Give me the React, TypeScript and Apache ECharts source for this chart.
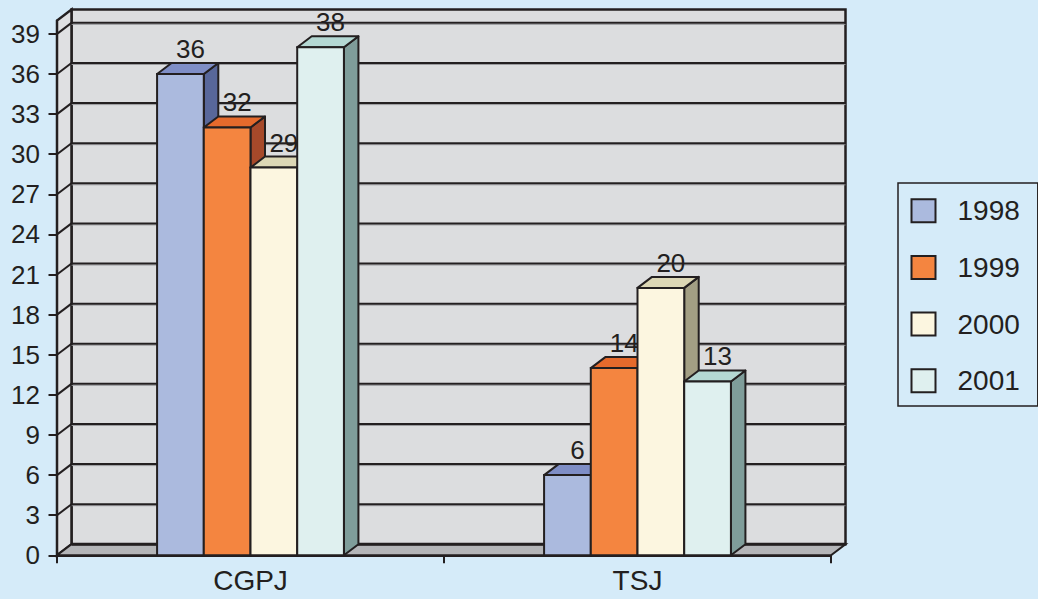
import React, { useEffect, useRef } from 'react';
import * as echarts from 'echarts';

const categories = ['CGPJ', 'TSJ'];
const years = ['1998', '1999', '2000', '2001'];
const values1998 = [36, 6];
const values1999 = [32, 14];
const values2000 = [29, 20];
const values2001 = [38, 13];
const yTicks = [0, 3, 6, 9, 12, 15, 18, 21, 24, 27, 30, 33, 36, 39];
const yMax = 40;

const seriesValues = [values1998, values1999, values2000, values2001];
const faceColors = ['#abbade', '#f48540', '#fcf6e0', '#dff0ef'];
const topColors = ['#7f8ec6', '#e56a2c', '#dcd7b5', '#b4d8d3'];
const sideColors = ['#58679a', '#a6492a', '#a39f84', '#7f9d9a'];

const DX = 14.5;
const DY = 11;
const BAR_RATIO = 0.1207;
const INK = '#231f20';
const FONT = '"Liberation Sans", Arial, Helvetica, sans-serif';

export default function App() {
  const ref = useRef<HTMLDivElement>(null);
  useEffect(() => {
    if (!ref.current) return;
    const chart = echarts.init(ref.current, undefined, { renderer: 'svg' });

    const wallSeries: any = {
      type: 'custom',
      name: 'walls',
      z: 1,
      clip: false,
      silent: true,
      data: [[0, 0]],
      renderItem: (params: any, api: any) => {
        const o = api.coord([0, 0]);
        const bw = api.size([1, 0])[0];
        const L = o[0] - bw / 2;
        const R = L + bw * categories.length;
        const y0 = o[1];
        const yT = api.coord([0, yMax])[1];
        const children: any[] = [];
        children.push({
          type: 'rect',
          shape: { x: L + DX, y: yT - DY, width: R - L, height: y0 - yT },
          style: { fill: '#dcdddf', stroke: INK, lineWidth: 2.5 },
        });
        children.push({
          type: 'polygon',
          shape: { points: [[L, y0], [L, yT], [L + DX, yT - DY], [L + DX, y0 - DY]] },
          style: { fill: '#dfe0e2', stroke: INK, lineWidth: 2.5 },
        });
        yTicks.forEach((t) => {
          if (t === 0) return;
          const y = api.coord([0, t])[1];
          children.push({
            type: 'line',
            shape: { x1: L + DX, y1: y - DY + 1.5, x2: R + DX, y2: y - DY + 1.5 },
            style: { stroke: '#9a9b9e', lineWidth: 1 },
          });
          children.push({
            type: 'line',
            shape: { x1: L + DX, y1: y - DY, x2: R + DX, y2: y - DY },
            style: { stroke: INK, lineWidth: 2 },
          });
          children.push({
            type: 'line',
            shape: { x1: L, y1: y, x2: L + DX, y2: y - DY },
            style: { stroke: INK, lineWidth: 2 },
          });
        });
        children.push({
          type: 'polygon',
          shape: { points: [[L, y0], [L + DX, y0 - DY], [R + DX, y0 - DY], [R, y0]] },
          style: { fill: '#b4b5b8', stroke: INK, lineWidth: 2 },
        });
        children.push({
          type: 'line',
          shape: { x1: L + DX, y1: y0 - DY, x2: R + DX, y2: y0 - DY },
          style: { stroke: INK, lineWidth: 3 },
        });
        return { type: 'group', children };
      },
    };

    const barSeries: any[] = years.map((yr, s) => ({
      type: 'custom',
      name: yr,
      z: 2 + s,
      clip: false,
      itemStyle: { color: faceColors[s], borderColor: INK, borderWidth: 2 },
      data: seriesValues[s].map((v, ci) => [ci, v]),
      encode: { x: 0, y: 1 },
      renderItem: (params: any, api: any) => {
        const ci = api.value(0);
        const v = api.value(1);
        const base = api.coord([ci, 0]);
        const tp = api.coord([ci, v]);
        const bw = api.size([1, 0])[0];
        const w = bw * BAR_RATIO;
        const x0 = base[0] + (s - 2) * w;
        const x1 = x0 + w;
        const yb = base[1];
        const yt = tp[1];
        return {
          type: 'group',
          children: [
            {
              type: 'polygon',
              shape: { points: [[x1, yt], [x1 + DX, yt - DY], [x1 + DX, yb - DY], [x1, yb]] },
              style: { fill: sideColors[s], stroke: INK, lineWidth: 2, lineJoin: 'round' },
            },
            {
              type: 'polygon',
              shape: { points: [[x0, yt], [x0 + DX, yt - DY], [x1 + DX, yt - DY], [x1, yt]] },
              style: { fill: topColors[s], stroke: INK, lineWidth: 2, lineJoin: 'round' },
            },
            {
              type: 'rect',
              shape: { x: x0, y: yt, width: w, height: yb - yt },
              style: { fill: faceColors[s], stroke: INK, lineWidth: 2 },
            },
            {
              type: 'text',
              x: (x0 + x1) / 2 + 10,
              y: yt - DY - 1,
              style: {
                text: String(v),
                fill: INK,
                font: `26px ${FONT}`,
                align: 'center',
                verticalAlign: 'bottom',
              },
            },
          ],
        };
      },
    }));

    chart.setOption({
      animation: false,
      backgroundColor: '#d5ebf9',
      textStyle: { fontFamily: FONT },
      grid: { left: 57, right: 207, top: 20.5, bottom: 43.7, containLabel: false },
      xAxis: {
        type: 'category',
        data: categories,
        axisLine: { show: true, lineStyle: { color: INK, width: 2 } },
        axisTick: { show: true, length: 8, lineStyle: { color: INK, width: 2 } },
        axisLabel: { fontSize: 28, color: INK, margin: 11, fontFamily: FONT },
        splitLine: { show: false },
      },
      yAxis: {
        type: 'value',
        min: 0,
        max: yMax,
        axisLine: { show: true, lineStyle: { color: INK, width: 2.5 } },
        axisTick: { show: true, length: 8.5, customValues: yTicks, lineStyle: { color: INK, width: 2 } },
        axisLabel: { fontSize: 26, color: INK, margin: 17, customValues: yTicks, fontFamily: FONT },
        splitLine: { show: false },
      },
      legend: {
        orient: 'vertical',
        left: 898,
        top: 183,
        padding: [13.7, 18, 11.3, 12.5],
        itemWidth: 24,
        itemHeight: 23,
        itemGap: 28.7,
        borderColor: INK,
        borderWidth: 1.5,
        borderRadius: 0,
        icon: 'rect',
        textStyle: { fontSize: 28, color: INK, fontFamily: FONT, padding: [0, 0, 0, 17] },
        data: years.map((y, i) => ({
          name: y,
          itemStyle: { color: faceColors[i], borderColor: INK, borderWidth: 2 },
        })),
      },
      series: [wallSeries, ...barSeries],
    });
    return () => chart.dispose();
  }, []);
  return (
    <div
      ref={ref}
      style={{ position: 'fixed', left: 0, top: 0, width: 1038, height: 599 }}
    />
  );
}
